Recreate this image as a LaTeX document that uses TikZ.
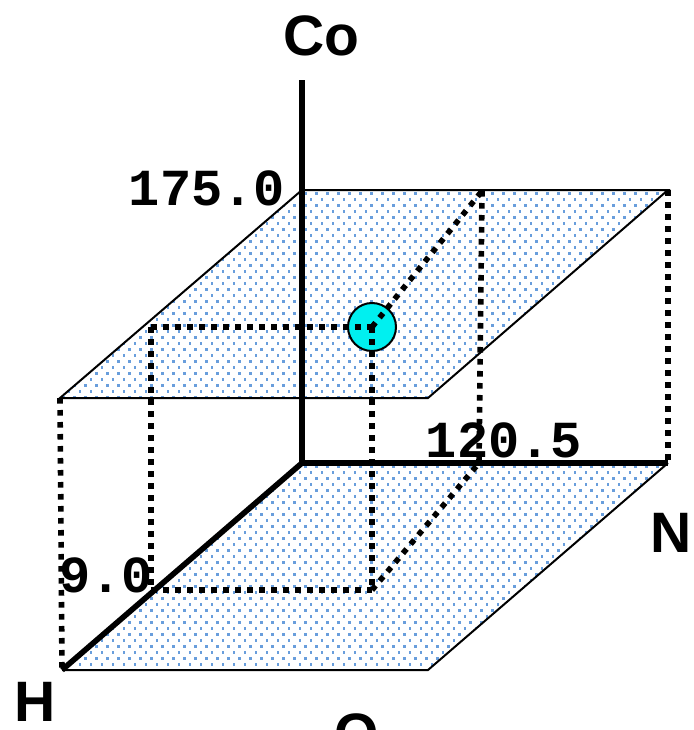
\documentclass[tikz,border=0pt]{standalone}
\usepackage{fontspec}
\setmainfont{Liberation Sans}
\newfontfamily\monof{Liberation Mono}
\definecolor{dotblue}{RGB}{105,158,220}
\definecolor{ballcyan}{RGB}{0,240,240}
\tikzset{
  edge/.style={line width=2pt, line join=miter},
  axis/.style={line width=5.6pt},
  proj/.style={line width=5.6pt, dash pattern=on 5.6pt off 6.4pt},
  axlabel/.style={font=\fontsize{57}{57}\selectfont\bfseries, inner sep=0pt},
  numlabel/.style={font=\monof\fontsize{52}{52}\selectfont\bfseries, inner sep=0pt},
  ball/.style={circle, draw=black, line width=2pt, fill=ballcyan, minimum size=48pt, inner sep=0pt},
  dotsq/.style={fill=dotblue}
}
\newcommand{\dotfield}[1]{% top y
  \foreach \r in {0,...,36}{
    \pgfmathsetmacro{\yy}{#1+2+6*\r}
    \pgfmathsetmacro{\off}{mod(\r,2)*5.5}
    \foreach \c in {0,...,59}{
      \fill[dotsq] ({40+\off+11*\c},\yy) rectangle ++(2.7,2.7);
    }
  }}
\begin{document}
\begin{tikzpicture}[x=1pt,y=-1pt]
\useasboundingbox (0,0) rectangle (693,730);
\clip (0,0) rectangle (693,730);
% corners
\coordinate (O) at (302,463);
\coordinate (Ntip) at (668,463);
\coordinate (Htip) at (62,670);
\coordinate (BFR) at (428,670);
\coordinate (Cotip) at (302,80);
\coordinate (TBL) at (302,190);
\coordinate (TBR) at (668,190);
\coordinate (TFR) at (428,398);
\coordinate (TFL) at (60,398);
% projection points
\coordinate (PT) at (372,327);
\coordinate (PTH) at (151,327);
\coordinate (PTN) at (482,191);
\coordinate (PB) at (372,590);
\coordinate (PBH) at (151,590);
\coordinate (PBN) at (479,463);
% planes (dotted fill)
\begin{scope}
  \clip (TBL) -- (TBR) -- (TFR) -- (TFL) -- cycle;
  \dotfield{190}
\end{scope}
\begin{scope}
  \clip (O) -- (Ntip) -- (BFR) -- (Htip) -- cycle;
  \dotfield{463}
\end{scope}
\draw[edge] (TBL) -- (TBR) -- (TFR) -- (TFL) -- cycle;
\draw[edge] (Ntip) -- (BFR) -- (Htip);
% dotted lines
\draw[proj] (TFL) -- (Htip);
\draw[proj] (TBR) -- (Ntip);
\draw[proj] (PTN) -- (PBN);
\draw[proj] (PTH) -- (PBH);
\draw[proj] (PBH) -- (PB);
\draw[proj] (PB) -- (PBN);
% axes
\draw[axis] (O) -- (Cotip);
\draw[axis] (O) -- (Ntip);
\draw[axis] (O) -- (Htip);
% ball
\node[ball] (pt) at (PT) {};
\draw[proj] (PTH) -- (pt.center);
\draw[proj] (pt.center) -- (PTN);
\draw[proj] (pt.center) -- (PB);
% labels
\node[axlabel] (lCo) at (321,36) {Co};
\node[axlabel] (lN) at (671,533) {N};
\node[axlabel] (lH) at (35,702) {H};
\node[axlabel] (lO) at (357,734) {O};
\node[numlabel] (n175) at (207,188) {175.0};
\node[numlabel] (n120) at (504,440) {120.5};
\node[numlabel] (n9) at (106,575) {9.0};
\end{tikzpicture}
\end{document}
